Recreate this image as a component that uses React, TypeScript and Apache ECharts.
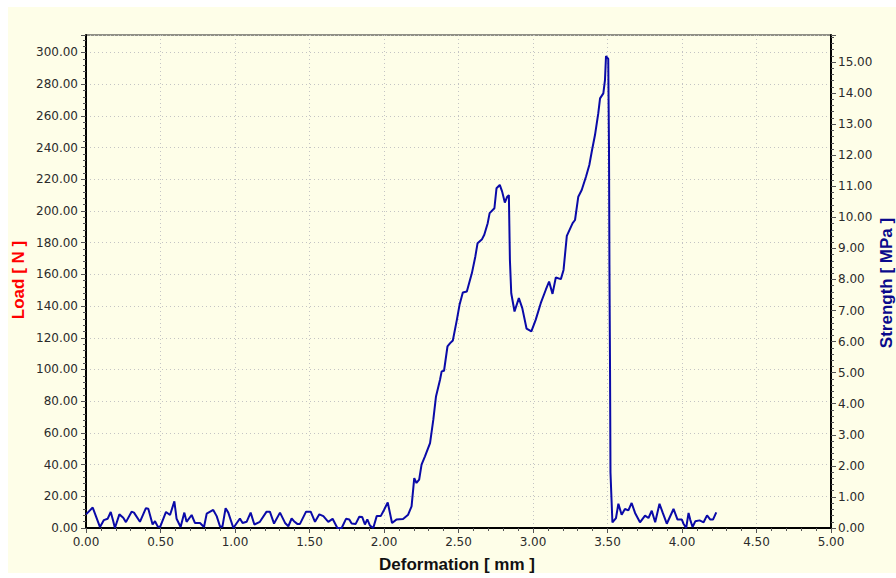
import React, { useEffect, useRef } from "react";
import * as echarts from "echarts";

const deformation: number[] = [
  0.0, 0.045, 0.094, 0.12, 0.145, 0.166, 0.183, 0.194, 0.224, 0.25, 0.268, 0.306, 0.322, 0.362, 0.402, 0.418,
  0.447, 0.463, 0.481, 0.497, 0.537, 0.564, 0.593, 0.608, 0.635, 0.66, 0.675, 0.709, 0.731, 0.765, 0.792, 0.81,
  0.854, 0.877, 0.899, 0.915, 0.937, 0.955, 0.989, 1.033, 1.051, 1.078, 1.105, 1.13, 1.167, 1.212, 1.234, 1.262,
  1.302, 1.336, 1.358, 1.38, 1.396, 1.418, 1.436, 1.477, 1.508, 1.537, 1.566, 1.593, 1.626, 1.655, 1.687, 1.716,
  1.745, 1.767, 1.783, 1.81, 1.834, 1.854, 1.872, 1.888, 1.906, 1.928, 1.951, 1.978, 2.0, 2.025, 2.054, 2.083,
  2.128, 2.162, 2.185, 2.203, 2.218, 2.236, 2.252, 2.275, 2.309, 2.331, 2.349, 2.376, 2.387, 2.403, 2.426, 2.444,
  2.462, 2.489, 2.507, 2.529, 2.556, 2.59, 2.613, 2.628, 2.658, 2.673, 2.696, 2.709, 2.741, 2.755, 2.777, 2.793,
  2.811, 2.827, 2.838, 2.845, 2.854, 2.876, 2.905, 2.928, 2.957, 2.989, 3.018, 3.052, 3.086, 3.108, 3.131, 3.153,
  3.187, 3.205, 3.227, 3.266, 3.282, 3.304, 3.327, 3.356, 3.378, 3.396, 3.416, 3.438, 3.45, 3.472, 3.483, 3.49,
  3.505, 3.51, 3.513, 3.517, 3.52, 3.527, 3.533, 3.557, 3.573, 3.595, 3.617, 3.64, 3.662, 3.685, 3.718, 3.752,
  3.775, 3.797, 3.82, 3.849, 3.871, 3.898, 3.943, 3.97, 3.999, 4.01, 4.028, 4.044, 4.055, 4.071, 4.089, 4.118,
  4.145, 4.168, 4.19, 4.208, 4.23,
];

const loadN: number[] = [
  8.6, 12.9, 0.6, 5.0, 5.8, 10.1, 4.3, 0.0, 8.6, 6.5, 3.7, 10.3, 9.7, 3.9, 12.5, 12.2,
  2.2, 4.3, 1.0, 0.6, 10.1, 8.2, 16.8, 5.8, 0.6, 9.7, 3.9, 8.2, 3.2, 3.2, 0.6, 9.0,
  11.4, 7.5, 1.1, 0.6, 12.5, 9.7, 0.0, 6.0, 3.2, 3.9, 9.7, 2.2, 3.9, 10.3, 10.3, 2.8,
  9.7, 3.2, 1.1, 6.0, 4.3, 2.6, 2.6, 10.3, 10.3, 3.9, 8.6, 7.5, 3.9, 5.8, 0.0, 0.0,
  5.8, 5.4, 2.8, 2.6, 7.1, 6.9, 2.2, 5.4, 1.5, 0.0, 7.5, 7.5, 11.4, 16.1, 3.2, 5.3,
  5.7, 8.4, 13.7, 31.5, 28.4, 30.5, 40.0, 45.2, 53.6, 68.3, 83.0, 93.5, 98.8, 99.2, 114.5, 116.6,
  118.3, 131.3, 140.8, 148.6, 149.2, 160.8, 171.3, 179.7, 182.2, 185.0, 192.3, 198.6, 201.7, 214.3, 216.4, 212.2,
  205.3, 209.0, 210.0, 169.2, 148.1, 136.6, 145.0, 138.7, 125.7, 124.0, 131.3, 141.8, 150.3, 155.5, 147.7, 158.0,
  157.0, 162.8, 184.3, 192.3, 194.3, 209.0, 213.2, 221.7, 229.0, 238.3, 247.9, 261.5, 271.0, 274.2, 282.5, 297.7,
  296.0, 240.0, 166.0, 100.0, 35.0, 18.0, 3.5, 6.3, 15.3, 8.4, 12.0, 11.1, 15.8, 9.5, 3.6, 7.8,
  6.3, 10.9, 3.6, 15.3, 9.5, 2.7, 12.0, 5.3, 5.3, 2.7, 0.0, 9.5, 5.3, 0.6, 4.2, 4.8,
  3.6, 8.0, 5.3, 5.3, 9.9,
];

const xTitle = "Deformation [ mm ]";
const leftTitle = "Load [ N ]";
const rightTitle = "Strength [ MPa ]";

export default function App() {
  const ref = useRef<HTMLDivElement>(null);
  useEffect(() => {
    if (!ref.current) return;
    const chart = echarts.init(ref.current, null, { renderer: "svg" });
    const labelStyle = { fontFamily: "DejaVu Sans", fontSize: 12, color: "#2b2b2b" };
    const tickStyle = { color: "#555", width: 1 };
    const pairs = deformation.map((d, i) => [d, loadN[i]]);
    chart.setOption({
      animation: false,
      backgroundColor: "#FEFEE8",
      grid: {
        left: 78,
        right: 65,
        top: 28,
        bottom: 45,
        show: true,
        borderColor: "#222",
        borderWidth: 1,
        backgroundColor: "transparent",
      },
      xAxis: {
        type: "value",
        min: 0,
        max: 5,
        interval: 0.5,
        axisLine: { show: true, lineStyle: { color: "#000", width: 2 } },
        axisTick: { show: true, length: 5, lineStyle: tickStyle },
        minorTick: { show: true, splitNumber: 5, length: 3, lineStyle: tickStyle },
        axisLabel: { ...labelStyle, margin: 8, formatter: (v: number) => v.toFixed(2) },
        splitLine: { show: true, lineStyle: { color: "#c4c4c4", type: [1, 3], width: 1 } },
      },
      yAxis: [
        {
          type: "value",
          position: "left",
          min: 0,
          max: 311,
          interval: 20,
          axisLine: { show: true, lineStyle: { color: "#000", width: 2 } },
          axisTick: { show: true, length: 5, lineStyle: tickStyle },
          minorTick: { show: true, splitNumber: 5, length: 3, lineStyle: tickStyle },
          axisLabel: { ...labelStyle, margin: 8, showMaxLabel: false, formatter: (v: number) => v.toFixed(2) },
          splitLine: { show: true, lineStyle: { color: "#c4c4c4", type: [1, 3], width: 1 } },
        },
        {
          type: "value",
          position: "right",
          min: 0,
          max: 15.87,
          interval: 1,
          axisLine: { show: true, lineStyle: { color: "#000", width: 2 } },
          axisTick: { show: true, length: 5, lineStyle: tickStyle },
          minorTick: { show: true, splitNumber: 5, length: 3, lineStyle: tickStyle },
          axisLabel: { ...labelStyle, margin: 7, showMaxLabel: false, formatter: (v: number) => v.toFixed(2) },
          splitLine: { show: false },
        },
      ],
      graphic: [
        {
          type: "text",
          x: 449,
          y: 557.5,
          style: {
            text: xTitle,
            font: "bold 17px 'Liberation Sans', Arial, sans-serif",
            fill: "#111",
            textAlign: "center",
            textVerticalAlign: "middle",
          },
        },
        {
          type: "text",
          x: 10.5,
          y: 273,
          rotation: Math.PI / 2,
          style: {
            text: leftTitle,
            font: "bold 17px 'Liberation Sans', Arial, sans-serif",
            fill: "#ff0000",
            textAlign: "center",
            textVerticalAlign: "middle",
          },
        },
        {
          type: "text",
          x: 878,
          y: 276,
          rotation: Math.PI / 2,
          style: {
            text: rightTitle,
            font: "bold 17px 'Liberation Sans', Arial, sans-serif",
            fill: "#0a0a8c",
            textAlign: "center",
            textVerticalAlign: "middle",
          },
        },
      ],
      series: [
        {
          type: "line",
          yAxisIndex: 0,
          data: pairs,
          showSymbol: false,
          symbol: "none",
          lineStyle: { color: "#0a0aa8", width: 2 },
          clip: true,
        },
      ],
    });
    return () => chart.dispose();
  }, []);
  return (
    <div
      ref={ref}
      style={{ position: "absolute", left: 8, top: 7, width: 888, height: 566, background: "#FEFEE8" }}
    />
  );
}
